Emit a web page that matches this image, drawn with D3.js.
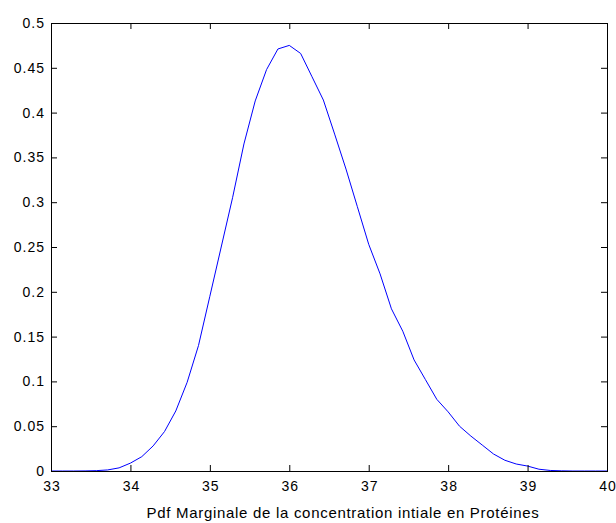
<!DOCTYPE html>
<html>
<head>
<meta charset="utf-8">
<script src="https://cdn.jsdelivr.net/npm/d3@7"></script>
<style>
  body { margin: 0; background: #fff; }
  svg text { font-family: "Liberation Sans", Arial, sans-serif; fill: #000; }
</style>
</head>
<body>
<div id="chart"></div>
<script>
// sample points (step 1/7 from 33 to 40)
const xValues = [
  33.000, 33.143, 33.286, 33.429, 33.571, 33.714, 33.857,
  34.000, 34.143, 34.286, 34.429, 34.571, 34.714, 34.857,
  35.000, 35.143, 35.286, 35.429, 35.571, 35.714, 35.857,
  36.000, 36.143, 36.286, 36.429, 36.571, 36.714, 36.857,
  37.000, 37.143, 37.286, 37.429, 37.571, 37.714, 37.857,
  38.000, 38.143, 38.286, 38.429, 38.571, 38.714, 38.857,
  39.000, 39.143, 39.286, 39.429, 39.571, 39.714, 39.857,
  40.000
];
const pdfValues = [
  0, 0, 0, 0.0001, 0.0004, 0.0012, 0.0035,
  0.0088, 0.016, 0.028, 0.044, 0.067, 0.099, 0.140,
  0.195, 0.250, 0.305, 0.365, 0.413, 0.448, 0.471,
  0.475, 0.466, 0.440, 0.414, 0.376, 0.337, 0.295,
  0.253, 0.220, 0.181, 0.156, 0.124, 0.102, 0.080,
  0.066, 0.050, 0.039, 0.029, 0.019, 0.012, 0.0078,
  0.0055, 0.002, 0.0006, 0.0002, 0, 0, 0,
  0
];
const xTicks = [33, 34, 35, 36, 37, 38, 39, 40];
const yTicks = [0, 0.05, 0.1, 0.15, 0.2, 0.25, 0.3, 0.35, 0.4, 0.45, 0.5];
const xLabel = 'Pdf Marginale de la concentration intiale en Protéines';

const width = 616, height = 523;
const margin = { top: 23, right: 9, bottom: 52, left: 51 };
const innerW = width - margin.left - margin.right;
const innerH = height - margin.top - margin.bottom;

const svg = d3.select('#chart').append('svg')
  .attr('width', width).attr('height', height);
const g = svg.append('g').attr('transform', `translate(${margin.left},${margin.top})`);

const x = d3.scaleLinear().domain([33, 40]).range([0, innerW]);
const y = d3.scaleLinear().domain([0, 0.5]).range([innerH, 0]);

const fmtY = v => v === 0 ? '0' : String(+v.toFixed(2));

// curve
const data = xValues.map((v, i) => ({ x: v, y: pdfValues[i] }));
g.append('path')
  .datum(data)
  .attr('fill', 'none')
  .attr('stroke', '#0000ff')
  .attr('stroke-width', 1)
  .attr('d', d3.line().x(d => x(d.x)).y(d => y(d.y)));

// axes, matlab style: ticks inward, box with mirrored ticks
const tickLen = 6;
const styleAxis = sel => {
  sel.select('.domain').remove();
  sel.selectAll('line').attr('stroke', '#000');
  sel.selectAll('text').style('font-size', '14px').style('letter-spacing', '1px');
};

g.append('g')
  .attr('transform', `translate(0,${innerH})`)
  .call(d3.axisBottom(x).tickValues(xTicks).tickSize(-tickLen).tickPadding(10).tickFormat(d3.format('d')))
  .call(styleAxis)
  .selectAll('text').attr('dx', '0.5');
g.append('g')
  .call(d3.axisTop(x).tickValues(xTicks).tickSize(-tickLen).tickFormat(''))
  .call(styleAxis);
g.append('g')
  .call(d3.axisLeft(y).tickValues(yTicks).tickSize(-tickLen).tickPadding(6).tickFormat(fmtY))
  .call(styleAxis);
g.append('g')
  .attr('transform', `translate(${innerW},0)`)
  .call(d3.axisRight(y).tickValues(yTicks).tickSize(-tickLen).tickFormat(''))
  .call(styleAxis);

g.append('rect')
  .attr('x', 0).attr('y', 0)
  .attr('width', innerW).attr('height', innerH)
  .attr('fill', 'none').attr('stroke', '#000').attr('stroke-width', 1)
  .attr('shape-rendering', 'crispEdges');

g.append('text')
  .attr('x', innerW / 2 + 14)
  .attr('y', innerH + 47)
  .attr('text-anchor', 'middle')
  .style('font-size', '15px')
  .style('letter-spacing', '0.7px')
  .text(xLabel);
</script>
</body>
</html>
